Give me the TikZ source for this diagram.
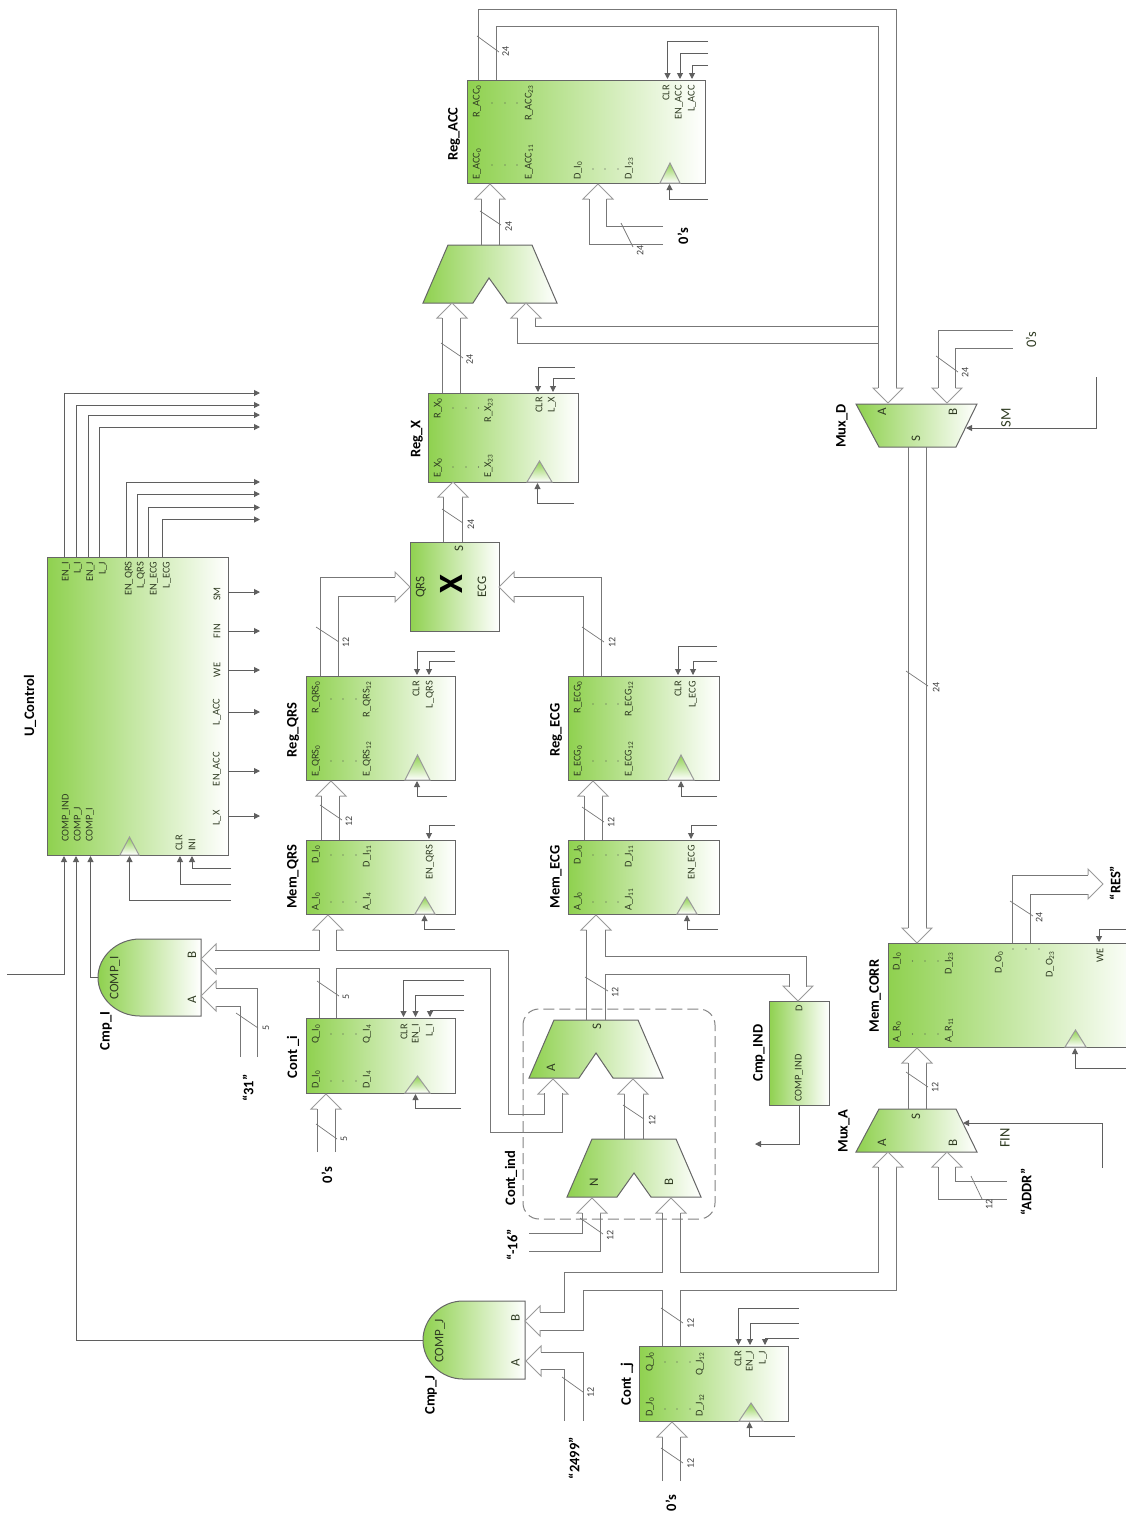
\documentclass[tikz,border=0pt]{standalone}
\usepackage{fontspec}
\setmainfont{Carlito}
\usetikzlibrary{arrows.meta}
\definecolor{gn}{HTML}{8FD14F}
\definecolor{bd}{HTML}{666666}
\definecolor{wg}{HTML}{777777}
\definecolor{hg}{HTML}{9A9A9A}
\definecolor{tx}{HTML}{2F3B22}
\tikzset{
  block/.style={draw=bd,line width=1pt,left color=gn,right color=white,inner sep=0pt,outer sep=0pt},
  polyb/.style={draw=bd,line width=1pt,left color=gn,right color=white},
  clockb/.style={draw=hg,line width=1pt,top color=gn,bottom color=white},
  wl/.style={draw=wg,line width=1pt,line cap=butt},
  ctl/.style={draw=wg!80!black,line width=1pt,-{Triangle[length=6pt,width=6pt]}},
  hd/.style={draw=hg,line width=1pt,line join=miter},
  slash/.style={draw=wg,line width=.7pt},
  dashbox/.style={draw=hg!85!black,line width=1pt,dash pattern=on 11pt off 5pt,rounded corners=16pt},
  pin/.style={rotate=90,inner sep=0pt,text=tx,font=\fontsize{10.4}{10.4}\selectfont},
  big/.style={rotate=90,inner sep=0pt,text=tx,font=\fontsize{13}{13}\selectfont},
  huge/.style={rotate=90,inner sep=0pt,text=tx,font=\fontsize{14.5}{14.5}\selectfont},
  tick/.style={rotate=90,inner sep=0pt,text=black!75,font=\fontsize{10}{10}\selectfont},
  title/.style={rotate=90,inner sep=0pt,text=black,font=\fontsize{14.5}{14.5}\selectfont\bfseries},
  dotm/.style={fill=black!70}
}
\newcounter{wc}
\newcounter{lc}
\newcommand\sbs[1]{\textsubscript{#1}}
\newcommand\wire[2]{\stepcounter{wc}\edef\wid{w\arabic{wc}}%
  \foreach \x/\y [count=\i] in {#2} {\coordinate (\wid-\i) at (\x,\y); \xdef\wn{\i}}%
  \draw[#1] (\wid-1) \foreach \i in {2,...,\wn} { -- (\wid-\i) };}
\newcommand\hU[4]{\wire{hd}{#3/#2+15,#1-15/#2+15,#1/#2,#1+15/#2+15,#4/#2+15}}
\newcommand\hD[4]{\wire{hd}{#3/#2-15,#1-15/#2-15,#1/#2,#1+15/#2-15,#4/#2-15}}
\newcommand\hL[4]{\wire{hd}{#1+15/#3,#1+15/#2-15,#1/#2,#1+15/#2+15,#1+15/#4}}
\newcommand\hR[4]{\wire{hd}{#1-15/#3,#1-15/#2-15,#1/#2,#1-15/#2+15,#1-15/#4}}
\newcommand\blk[5]{\pgfmathsetmacro\bw{#4-#2}\pgfmathsetmacro\bh{#5-#3}%
  \pgfmathsetmacro\bx{(#2+#4)/2}\pgfmathsetmacro\by{(#3+#5)/2}%
  \node[block,minimum width=\bw pt,minimum height=\bh pt] (#1) at (\bx,\by) {};}
\newcommand\clk[4]{\draw[clockb] (#1,#4) -- (#3,#2) -- ({2*#3-#1},#4) -- cycle;}
% top-anchored, bottom-anchored and centred rotated labels
\newcommand\tl[3]{\stepcounter{lc}\node[pin,anchor=east] (L\arabic{lc}) at (#1,#2) {#3};}
\newcommand\bl[3]{\stepcounter{lc}\node[pin,anchor=west] (L\arabic{lc}) at (#1,#2) {#3};}
\newcommand\cl[3]{\stepcounter{lc}\node[pin] (L\arabic{lc}) at (#1,#2) {#3};}
\newcommand\bg[3]{\stepcounter{lc}\node[big] (L\arabic{lc}) at (#1,#2) {#3};}
\newcommand\hg[3]{\stepcounter{lc}\node[huge] (L\arabic{lc}) at (#1,#2) {#3};}
\newcommand\tk[3]{\stepcounter{lc}\node[tick] (L\arabic{lc}) at (#1,#2) {#3};}
\newcommand\ttl[3]{\stepcounter{lc}\node[title] (L\arabic{lc}) at (#1,#2) {#3};}
\newcommand\dts[4]{\foreach \q in {#1,#2,#3} {\fill[dotm] (\q,#4) circle (.6);}}
\begin{document}
\begin{tikzpicture}[x=1pt,y=-1pt]
\useasboundingbox (0,0) rectangle (1126,1513);
\clip (0,0) rectangle (1126,1513);

% ---------- blocks ----------
\blk{UControl}{47}{557}{228}{855}
\blk{RegACC}{467}{80}{705}{183}
\blk{RegX}{428}{393}{578}{482}
\blk{Mult}{410}{542}{499}{631}
\blk{RegQRS}{306}{676}{455}{780}
\blk{RegECG}{568}{676}{719}{780}
\blk{MemQRS}{306}{840}{455}{914}
\blk{MemECG}{568}{840}{719}{914}
\blk{Conti}{306}{1018}{455}{1093}
\blk{Contj}{639}{1346}{788}{1421}
\blk{CmpIND}{769}{1001}{829}{1105}
\blk{MemCORR}{888}{943}{1140}{1047}

% clocks
\clk{120}{837}{129.5}{855}
\clk{660}{163}{670}{183}
\clk{527}{461}{539.5}{482}
\clk{405}{755}{417.5}{780}
\clk{668}{755}{681}{780}
\clk{415}{897}{425}{914}
\clk{677}{897}{687}{914}
\clk{405}{1076}{417.5}{1093}
\clk{739}{1403}{751}{1421}
\clk{1065}{1030}{1075.5}{1047}

% muxes
\draw[polyb] (448,245) -- (532,245) -- (557,303) -- (507,303) -- (489,278) -- (473,303) -- (423,303) -- cycle;
\draw[polyb] (554,1020) -- (638,1020) -- (663,1078) -- (613,1078) -- (596,1053) -- (579,1078) -- (529,1078) -- cycle;
\draw[polyb] (592,1139) -- (676,1139) -- (701,1197) -- (651,1197) -- (634,1173) -- (617,1197) -- (567,1197) -- cycle;
\draw[polyb] (856,404) -- (977,404) -- (956,447) -- (879,447) -- cycle;
\draw[polyb] (879,1109) -- (956,1109) -- (977,1152) -- (856,1152) -- cycle;
% comparators
\draw[polyb] (201,939) -- (140,939) .. controls (117,939) and (98,956.5) .. (98,977.5) .. controls (98,998.5) and (117,1016) .. (140,1016) -- (201,1016) -- cycle;
\draw[polyb] (525,1301) -- (463,1301) .. controls (441,1301) and (423,1319) .. (423,1340) .. controls (423,1361) and (441,1379) .. (463,1379) -- (525,1379) -- cycle;
% dashed group
\draw[dashbox] (523,1009) rectangle (715,1219);

% ---------- U_Control outputs ----------
\wire{ctl}{64/557,64/393,260/393}
\wire{ctl}{76/557,76/405,260/405}
\wire{ctl}{88/557,88/415,260/415}
\wire{ctl}{99.5/557,99.5/427,260/427}
\wire{ctl}{126.5/557,126.5/482,260/482}
\wire{ctl}{137.5/557,137.5/494,260/494}
\wire{ctl}{148.5/557,148.5/507.5,260/507.5}
\wire{ctl}{162/557,162/519.5,260/519.5}
\wire{ctl}{228/592,260/592}
\wire{ctl}{228/631,260/631}
\wire{ctl}{228/670,260/670}
\wire{ctl}{228/712,260/712}
\wire{ctl}{228/771,260/771}
\wire{ctl}{228/816,260/816}
% U_Control inputs
\wire{ctl}{7/974,64/974,64/856}
\wire{ctl}{423/1340,76/1340,76/856}
\wire{ctl}{98/977,90.5/977,90.5/856}
\wire{ctl}{231/900,129.5/900,129.5/856}
\wire{ctl}{231/884,180/884,180/856}
\wire{ctl}{231/868,192/868,192/856}

% ---------- Reg_ACC ----------
\wire{wl}{478.5/80,478.5/9,896/9,896/388}
\wire{wl}{496/80,496/26,878/26,878/388}
\hD{888}{403}{878}{896}
\wire{slash}{477/36,499/52}
\wire{wl}{535/318,535/326,878/326}
\wire{wl}{517.5/318,517.5/343,878/343}
\hU{526}{303}{517.5}{535}
\wire{wl}{481.5/245,481.5/199}
\wire{wl}{499/245,499/199}
\hU{490}{184}{481.5}{499}
\wire{slash}{480/211,501/225}
\wire{wl}{663/244,589/244,589/199}
\wire{wl}{663/226,606.5/226,606.5/199}
\hU{598}{184}{589}{606.5}
\wire{slash}{621/223,633/247}
\wire{ctl}{708/41,667.5/41,667.5/79}
\wire{ctl}{708/53,680/53,680/79}
\wire{ctl}{708/65,692/65,692/79}
\wire{ctl}{708/199,669.5/199,669.5/184}

% ---------- upper mux / Reg_X ----------
\wire{wl}{442/393,442/318}
\wire{wl}{460.5/393,460.5/318}
\hU{452}{303}{442}{460.5}
\wire{slash}{441/343,463/358}
\wire{ctl}{574.5/367,538/367,538/392}
\wire{ctl}{574.5/378,553/378,553/392}
\wire{ctl}{574/503,537.5/503,537.5/483}
\wire{wl}{443.5/542,443.5/497}
\wire{wl}{462/542,462/497}
\hU{453}{482}{443.5}{462}
\wire{slash}{442/509,463/523}

% ---------- into multiplier ----------
\wire{wl}{320.5/676,320.5/577,395/577}
\wire{wl}{338/676,338/596,395/596}
\hR{410}{587}{577}{596}
\wire{slash}{316/627,339/642}
\wire{wl}{601/676,601/577,514/577}
\wire{wl}{583/676,583/596,514/596}
\hL{499}{587}{577}{596}
\wire{slash}{582/627,604/642}

% ---------- Reg_QRS ----------
\wire{ctl}{455/651,417/651,417/675}
\wire{ctl}{455/661,429/661,429/675}
\wire{ctl}{447/796,417/796,417/781}
\wire{wl}{321.5/840,321.5/796}
\wire{wl}{339.5/840,339.5/796}
\hU{331}{781}{321.5}{339.5}
\wire{slash}{320/805,342/820}
% ---------- Reg_ECG ----------
\wire{ctl}{717/646,678/646,678/675}
\wire{ctl}{717/661,693/661,693/675}
\wire{ctl}{717/796,681/796,681/781}
\wire{wl}{584/840,584/796}
\wire{wl}{602/840,602/796}
\hU{593}{781}{584}{602}
\wire{slash}{582/807,604/822}
% ---------- Mem_QRS ----------
\wire{ctl}{455/825,429/825,429/839}
\wire{ctl}{455/929,424.5/929,424.5/915}
\hU{328}{915}{319}{336.5}
\wire{wl}{319/930,319/950,215/950}
\wire{wl}{319/1018,319/968,215/968}
\hL{201}{959}{950}{968}
\wire{wl}{336.5/930,336.5/950,508.5/950,508.5/1114,544/1114,544/1093}
\wire{wl}{336.5/1018,336.5/968,490.5/968,490.5/1132,562.5/1132,562.5/1093}
\hU{553}{1079}{544}{562.5}
\wire{slash}{317/981,339/996}
% ---------- Mem_ECG ----------
\wire{ctl}{717/825,691/825,691/839}
\wire{ctl}{718/929,687/929,687/915}
\hU{596}{915}{586.5}{605}
\wire{wl}{586.5/930,586.5/1020}
\wire{wl}{605/930,605/956,806.5/956,806.5/987}
\wire{wl}{605/1020,605/974,789/974,789/987}
\hD{798}{1001}{789}{806.5}
\wire{slash}{585/977,608/991}
\wire{ctl}{799.5/1105,799.5/1144,755/1144}
% ---------- Cont_i ----------
\wire{ctl}{464/980,403.5/980,403.5/1017}
\wire{ctl}{464/995,415.5/995,415.5/1017}
\wire{ctl}{464/1010,430/1010,430/1017}
\wire{ctl}{461/1108,415.5/1108,415.5/1094}
\wire{wl}{317/1152,317/1109}
\wire{wl}{335/1152,335/1109}
\hU{326}{1094}{317}{335}
\wire{slash}{316/1124,337/1139}
% Cmp_I A
\wire{wl}{257.5/1057,257.5/988,216/988}
\wire{wl}{240/1057,240/1006,216/1006}
\hL{201}{996}{988}{1006}
\wire{slash}{236/1013,258/1028}
% ---------- Cont_ind ----------
\wire{wl}{624.5/1139,624.5/1094}
\wire{wl}{643/1139,643/1094}
\hU{633}{1079}{624.5}{643}
\wire{slash}{623/1105,644/1119}
\wire{wl}{529/1233,582/1233,582/1213}
\wire{wl}{529/1251,600/1251,600/1213}
\hU{592}{1198}{582}{600}
\wire{slash}{580/1218,603/1234}
\hU{671}{1198}{662.5}{680.5}
\wire{wl}{662.5/1213,662.5/1272,564.5/1272,564.5/1312,540/1312}
\wire{wl}{680.5/1213,680.5/1272,878/1272,878/1167}
\wire{wl}{662.5/1346,662.5/1290,583/1290,583/1330,540/1330}
\wire{wl}{680.5/1346,680.5/1290,896/1290,896/1167}
\hL{525}{1321}{1312}{1330}
\hL{526}{1361}{1352}{1369}
\wire{wl}{541/1352,583/1352,583/1421}
\wire{wl}{541/1369,564.5/1369,564.5/1421}
\wire{slash}{562/1377,583/1392}
% ---------- Cont_j ----------
\wire{slash}{661/1308,683/1323}
\wire{ctl}{798.5/1308,738.5/1308,738.5/1345}
\wire{ctl}{798.5/1323,750/1323,750/1345}
\wire{ctl}{798.5/1338,765/1338,765/1345}
\wire{ctl}{795/1436,749.5/1436,749.5/1422}
\wire{wl}{662.5/1481,662.5/1437}
\wire{wl}{680.5/1481,680.5/1437}
\hU{672}{1422}{662.5}{680.5}
\wire{slash}{661/1448,683/1463}
% ---------- Mux_D ----------
\hD{947}{403}{938}{955.5}
\wire{wl}{938/388,938/330,1013/330}
\wire{wl}{955.5/388,955.5/348,1013/348}
\wire{slash}{936/356,958/372}
\wire{ctl}{1096/377,1096/428,966/428}
\wire{wl}{908/447,908/928}
\wire{wl}{926/447,926/928}
\hD{917}{943}{908}{926}
\wire{slash}{906/671,928/686}
% ---------- Mem_CORR / Mux_A ----------
\wire{wl}{908/1109,908/1063}
\wire{wl}{926/1109,926/1063}
\hU{917}{1048}{908}{926}
\wire{slash}{906/1072,928/1087}
\hU{888}{1152}{878}{896}
\hU{947}{1152}{938}{955.5}
\wire{wl}{955.5/1167,955.5/1181,1007/1181}
\wire{wl}{938/1167,938/1199,1007/1199}
\wire{slash}{971/1176,982/1199}
\wire{ctl}{1102/1168,1102/1123,963/1123}
\wire{wl}{1012.5/943,1012.5/875,1088/875}
\wire{wl}{1030.5/943,1030.5/894,1088/894}
\hR{1103}{884}{875}{894}
\wire{slash}{1010/901,1033/916}
\wire{ctl}{1126/929,1099/929,1099/942}
\wire{ctl}{1126/1068,1075/1068,1075/1048}

% ---------- dots ----------
\dts{492}{505}{517}{103}\dts{492}{505}{517}{165}\dts{593}{605}{618}{169}
\dts{453}{466}{478.5}{408}\dts{453}{466}{478.5}{467}
\dts{331}{343}{356}{699}\dts{331}{343}{356}{761}
\dts{593}{606}{618}{704}\dts{593}{606}{618}{761}
\dts{331}{343}{356}{855}\dts{331}{343}{356}{902}
\dts{593}{606}{618}{855}\dts{593}{606}{618}{902}
\dts{331}{343}{356}{1034}\dts{331}{343}{356}{1081}
\dts{665}{677}{690}{1362}\dts{665}{677}{690}{1409}
\dts{912.5}{925}{938}{961}\dts{912.5}{925}{938}{1034}\dts{1013}{1026}{1039}{949}

% ---------- U_Control labels ----------
\tl{66}{561.5}{EN\_I}\tl{78}{561.5}{L\_I}\tl{90.5}{561.5}{EN\_J}\tl{103}{561.5}{L\_J}
\tl{129}{561.5}{EN\_QRS}\tl{141}{561.5}{L\_QRS}\tl{154}{561.5}{EN\_ECG}\tl{167}{561.5}{L\_ECG}
\cl{217}{594}{SM}\cl{217}{631}{FIN}\cl{217}{670}{WE}\cl{217}{712}{L\_ACC}\cl{217}{769}{EN\_ACC}\cl{217}{818}{L\_X}
\bl{66}{842}{COMP\_IND}\bl{78}{842}{COMP\_J}\bl{90}{842}{COMP\_I}
\bl{179}{851}{CLR}\bl{192}{851}{INI}
% Reg_ACC
\tl{477}{85}{R\_ACC\sbs{0}}\tl{529}{85}{R\_ACC\sbs{23}}
\bl{477}{180}{E\_ACC\sbs{0}}\bl{529}{180}{E\_ACC\sbs{11}}
\bl{578}{180}{D\_I\sbs{0}}\bl{629}{180}{D\_I\sbs{23}}
\tl{666}{85}{CLR}\tl{679}{85}{EN\_ACC}\tl{692}{85}{L\_ACC}
% Reg_X
\tl{438}{398}{R\_X\sbs{0}}\tl{488.5}{398}{R\_X\sbs{23}}
\bl{438}{478}{E\_X\sbs{0}}\bl{488.5}{478}{E\_X\sbs{23}}
\tl{539}{397}{CLR}\tl{552}{397}{L\_X}
% Reg_QRS
\tl{316}{681}{R\_QRS\sbs{0}}\tl{367}{681}{R\_QRS\sbs{12}}
\bl{316}{777}{E\_QRS\sbs{0}}\bl{367}{777}{E\_QRS\sbs{12}}
\tl{416}{681}{CLR}\tl{430}{681}{L\_QRS}
% Reg_ECG
\tl{578}{681}{R\_ECG\sbs{0}}\tl{629}{681}{R\_ECG\sbs{12}}
\bl{578}{777}{E\_ECG\sbs{0}}\bl{629}{777}{E\_ECG\sbs{12}}
\tl{678}{681}{CLR}\tl{693}{681}{L\_ECG}
% Mem_QRS
\tl{316}{845}{D\_I\sbs{0}}\tl{367}{845}{D\_I\sbs{11}}
\bl{316}{911}{A\_I\sbs{0}}\bl{367}{911}{A\_I\sbs{4}}
\tl{430}{845}{EN\_QRS}
% Mem_ECG
\tl{578}{845}{D\_J\sbs{0}}\tl{629}{845}{D\_J\sbs{11}}
\bl{578}{911}{A\_J\sbs{0}}\bl{629}{911}{A\_J\sbs{11}}
\tl{692}{845}{EN\_ECG}
% Cont_i
\tl{316}{1024}{Q\_I\sbs{0}}\tl{367}{1024}{Q\_I\sbs{4}}
\bl{316}{1089}{D\_I\sbs{0}}\bl{367}{1089}{D\_I\sbs{4}}
\tl{404}{1024}{CLR}\tl{416}{1024}{EN\_I}\tl{430}{1024}{L\_I}
% Cont_j
\tl{650}{1352}{Q\_J\sbs{0}}\tl{700}{1352}{Q\_J\sbs{12}}
\bl{650}{1417}{D\_J\sbs{0}}\bl{700}{1417}{D\_J\sbs{12}}
\tl{738}{1351}{CLR}\tl{750}{1351}{EN\_J}\tl{763}{1351}{L\_J}
% Mem_CORR
\tl{897}{952}{D\_I\sbs{0}}\tl{949}{952}{D\_I\sbs{23}}
\tl{999}{951}{D\_O\sbs{0}}\tl{1050}{951}{D\_O\sbs{23}}
\bl{897}{1043}{A\_R\sbs{0}}\bl{949}{1043}{A\_R\sbs{11}}
\tl{1100}{948}{WE}
% Cmp_IND
\cl{799}{1008}{D}\bl{799}{1102}{COMP\_IND}
% big labels
\bg{421}{587}{QRS}\bg{482}{587}{ECG}\bg{459}{549}{S}
\bg{597}{1026}{S}\bg{551}{1068}{A}\bg{594}{1182}{N}\bg{669}{1182}{B}
\bg{882}{412}{A}\bg{953}{412}{B}\bg{916}{439}{S}
\bg{916}{1116}{S}\bg{882}{1143}{A}\bg{953}{1143}{B}
\bg{192}{955}{B}\bg{192}{1000}{A}\bg{115}{978}{COMP\_I}
\bg{515.5}{1318}{B}\bg{515.5}{1363}{A}\bg{440}{1341}{COMP\_J}
\hg{1006}{418}{SM}\hg{1005}{1138}{FIN}\hg{1031}{340}{0's}
\stepcounter{lc}\node[rotate=90,inner sep=0pt,font=\fontsize{34}{34}\selectfont\bfseries] (L\arabic{lc}) at (451,584) {X};
% bus widths
\tk{505.5}{51}{24}\tk{508.5}{226}{24}\tk{640}{250}{24}\tk{469.5}{359}{24}\tk{471}{524}{24}
\tk{346}{642}{12}\tk{612}{642}{12}\tk{349}{821}{12}\tk{611}{822}{12}
\tk{346}{997}{5}\tk{344}{1139}{5}\tk{266}{1028}{5}
\tk{615}{992}{12}\tk{652}{1120}{12}\tk{610}{1235}{12}
\tk{590.5}{1392}{12}\tk{690.5}{1323}{12}\tk{690.5}{1463}{12}
\tk{965}{372}{24}\tk{936}{687}{24}\tk{935}{1087}{12}\tk{989}{1204}{12}\tk{1039}{917}{24}
% titles
\ttl{30}{706}{U\_Control}
\ttl{454}{134}{Reg\_ACC}\ttl{417}{439}{Reg\_X}
\ttl{293}{730}{Reg\_QRS}\ttl{556}{730}{Reg\_ECG}
\ttl{293}{877}{Mem\_QRS}\ttl{556}{877}{Mem\_ECG}
\ttl{293}{1057}{Cont \_i}\ttl{627}{1384}{Cont \_j}
\ttl{106}{1031}{Cmp\_I}\ttl{431}{1395}{Cmp\_J}
\ttl{759}{1053}{Cmp\_IND}\ttl{511}{1178}{Cont\_ind}
\ttl{842}{426}{Mux\_D}\ttl{844}{1131}{Mux\_A}\ttl{875}{996}{Mem\_CORR}
\ttl{683}{236}{0's}\ttl{327}{1175}{0's}\ttl{671}{1503}{0's}
\ttl{248}{1088}{“31”}\ttl{512}{1245}{“-16”}\ttl{574}{1458}{“2499”}
\ttl{1026}{1192}{“ADDR”}\ttl{1115}{883}{“RES”}
\end{tikzpicture}
\end{document}
